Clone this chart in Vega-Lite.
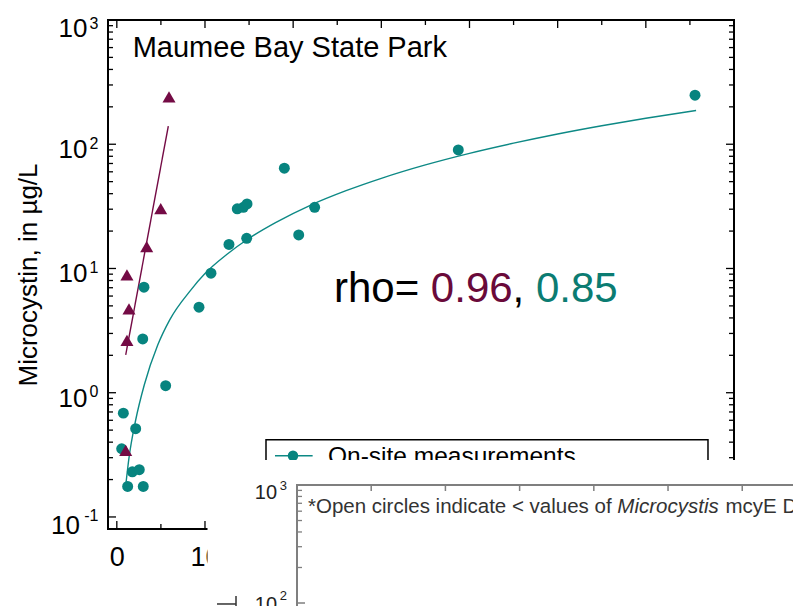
{
  "$schema": "https://vega.github.io/schema/vega-lite/v6.json",
  "width": 626,
  "height": 509,
  "autosize": "none",
  "padding": {"left": 108, "top": 20, "right": 59, "bottom": 77},
  "background": "white",
  "config": {
    "view": {"stroke": "black", "strokeWidth": 2},
    "font": "Liberation Sans",
    "text": {"font": "Liberation Sans"}
  },
  "datasets": {
    "onsite": [
      {"x": 0.74, "y": 0.685}, {"x": 0.55, "y": 0.354}, {"x": 1.23, "y": 0.176}, {"x": 3.0, "y": 0.176},
      {"x": 1.76, "y": 0.231}, {"x": 2.55, "y": 0.24}, {"x": 2.14, "y": 0.513}, {"x": 2.94, "y": 2.71},
      {"x": 5.54, "y": 1.14}, {"x": 9.32, "y": 4.88}, {"x": 3.08, "y": 7.07}, {"x": 10.68, "y": 9.17},
      {"x": 12.72, "y": 15.6}, {"x": 14.73, "y": 17.5}, {"x": 13.66, "y": 30.2}, {"x": 14.35, "y": 31.1},
      {"x": 14.77, "y": 33.1}, {"x": 19.0, "y": 64.1}, {"x": 20.63, "y": 18.6}, {"x": 22.44, "y": 31.1},
      {"x": 38.73, "y": 90.0}, {"x": 65.58, "y": 248}
    ],
    "lab": [
      {"x": 1.15, "y": 8.89}, {"x": 1.38, "y": 4.73}, {"x": 1.15, "y": 2.64}, {"x": 3.39, "y": 15.0},
      {"x": 4.98, "y": 30.3}, {"x": 5.92, "y": 241}, {"x": 1.01, "y": 0.343}
    ],
    "fitOnsite": [
      {"x": 1.01, "y": 0.179}, {"x": 1.38, "y": 0.299}, {"x": 2.14, "y": 0.603}, {"x": 3.12, "y": 1.16},
      {"x": 4.64, "y": 2.42}, {"x": 6.0, "y": 3.86}, {"x": 8.41, "y": 6.73}, {"x": 10, "y": 9.1},
      {"x": 12.5, "y": 13.0}, {"x": 15, "y": 17.5}, {"x": 18, "y": 23.4}, {"x": 22, "y": 32.4},
      {"x": 26, "y": 42.3}, {"x": 30, "y": 53.2}, {"x": 35, "y": 68.2}, {"x": 40, "y": 84.5},
      {"x": 45, "y": 102}, {"x": 50, "y": 121}, {"x": 55, "y": 141}, {"x": 60, "y": 162}, {"x": 65.7, "y": 187}
    ],
    "fitLab": [{"x": 1.01, "y": 2.02}, {"x": 5.84, "y": 140}],
    "yMinor": [
      {"v": 0.2}, {"v": 0.3}, {"v": 0.4}, {"v": 0.5}, {"v": 0.6}, {"v": 0.7}, {"v": 0.8}, {"v": 0.9},
      {"v": 2}, {"v": 3}, {"v": 4}, {"v": 5}, {"v": 6}, {"v": 7}, {"v": 8}, {"v": 9},
      {"v": 20}, {"v": 30}, {"v": 40}, {"v": 50}, {"v": 60}, {"v": 70}, {"v": 80}, {"v": 90},
      {"v": 200}, {"v": 300}, {"v": 400}, {"v": 500}, {"v": 600}, {"v": 700}, {"v": 800}, {"v": 900}
    ],
    "yMajor": [{"v": 0.1}, {"v": 1}, {"v": 10}, {"v": 100}],
    "xMinor": [{"v": 5}, {"v": 15}, {"v": 25}, {"v": 35}, {"v": 45}, {"v": 55}, {"v": 65}],
    "xMajor": [{"v": 0}, {"v": 10}, {"v": 20}, {"v": 30}, {"v": 40}, {"v": 50}, {"v": 60}],
    "yLabels": [{"v": 1000, "e": "3"}, {"v": 100, "e": "2"}, {"v": 10, "e": "1"}, {"v": 1, "e": "0"}, {"v": 0.1, "e": "-1"}],
    "insetTop": [{"v": 10}, {"v": 20}, {"v": 30}, {"v": 40}, {"v": 50}, {"v": 60}],
    "insetYMinor": [{"v": 200}, {"v": 300}, {"v": 400}, {"v": 500}, {"v": 600}, {"v": 700}, {"v": 800}, {"v": 900}]
  },
  "layer": [
    {
      "layer": [
        {
          "data": {"name": "fitOnsite"},
          "mark": {"type": "line", "color": "#0d8985", "strokeWidth": 1.4, "interpolate": "monotone"},
          "encoding": {
            "x": {"field": "x", "type": "quantitative", "scale": {"domain": [-1, 70], "nice": false, "zero": false},
              "axis": {"title": null, "values": [0, 10, 20, 30, 40, 50, 60, 70], "format": "d", "ticks": false, "domain": false, "grid": false,
                "labelFontSize": 27, "labelPadding": 15.5, "labelColor": "black", "labelFont": "Liberation Sans", "labelFlush": false, "labelOverlap": false}},
            "y": {"field": "y", "type": "quantitative", "scale": {"type": "log", "domain": [0.08, 1000], "nice": false},
              "axis": {"title": "Microcystin, in µg/L", "labels": false, "ticks": false, "domain": false, "grid": false,
                "titleFontSize": 26, "titleFontWeight": "normal", "titleColor": "black", "titleFont": "Liberation Sans",
                "titlePadding": 72, "titleBaseline": "alphabetic"}}
          }
        },
        {
          "data": {"name": "fitLab"},
          "mark": {"type": "line", "color": "#740b45", "strokeWidth": 1.4},
          "encoding": {"x": {"field": "x", "type": "quantitative"}, "y": {"field": "y", "type": "quantitative"}}
        },
        {
          "data": {"name": "onsite"},
          "mark": {"type": "circle", "size": 120, "color": "#07847f", "opacity": 1},
          "encoding": {"x": {"field": "x", "type": "quantitative"}, "y": {"field": "y", "type": "quantitative"}}
        },
        {
          "data": {"name": "lab"},
          "mark": {"type": "point", "shape": "triangle-up", "filled": true, "size": 170, "color": "#740b45", "opacity": 1},
          "encoding": {"x": {"field": "x", "type": "quantitative"}, "y": {"field": "y", "type": "quantitative"}}
        },
        {
          "data": {"name": "yMinor"},
          "mark": {"type": "rule", "color": "black", "strokeWidth": 1.3},
          "encoding": {"y": {"field": "v", "type": "quantitative"}, "x": {"datum": -1}, "x2": {"datum": -0.433}}
        },
        {
          "data": {"name": "yMajor"},
          "mark": {"type": "rule", "color": "black", "strokeWidth": 1.3},
          "encoding": {"y": {"field": "v", "type": "quantitative"}, "x": {"datum": -1}, "x2": {"datum": -0.093}}
        },
        {
          "data": {"name": "yMinor"},
          "mark": {"type": "rule", "color": "black", "strokeWidth": 1.3},
          "encoding": {"y": {"field": "v", "type": "quantitative"}, "x": {"datum": 70}, "x2": {"datum": 69.433}}
        },
        {
          "data": {"name": "yMajor"},
          "mark": {"type": "rule", "color": "black", "strokeWidth": 1.3},
          "encoding": {"y": {"field": "v", "type": "quantitative"}, "x": {"datum": 70}, "x2": {"datum": 69.093}}
        },
        {
          "data": {"name": "xMinor"},
          "mark": {"type": "rule", "color": "black", "strokeWidth": 1.3},
          "encoding": {"x": {"field": "v", "type": "quantitative"}, "y": {"datum": 1000}, "y2": {"datum": 911.7}}
        },
        {
          "data": {"name": "xMajor"},
          "mark": {"type": "rule", "color": "black", "strokeWidth": 1.3},
          "encoding": {"x": {"field": "v", "type": "quantitative"}, "y": {"datum": 1000}, "y2": {"datum": 862.3}}
        },
        {
          "data": {"name": "xMinor"},
          "mark": {"type": "rule", "color": "black", "strokeWidth": 1.3},
          "encoding": {"x": {"field": "v", "type": "quantitative"}, "y": {"datum": 0.08}, "y2": {"datum": 0.08778}}
        },
        {
          "data": {"name": "xMajor"},
          "mark": {"type": "rule", "color": "black", "strokeWidth": 1.3},
          "encoding": {"x": {"field": "v", "type": "quantitative"}, "y": {"datum": 0.08}, "y2": {"datum": 0.09278}}
        },
        {
          "data": {"name": "yLabels"},
          "transform": [{"filter": "datum.v >= 1 && datum.v < 1000"}],
          "mark": {"type": "text", "text": "10", "align": "right", "baseline": "alphabetic", "dx": -20.5, "dy": 14, "fontSize": 26, "color": "black"},
          "encoding": {"y": {"field": "v", "type": "quantitative"}, "x": {"datum": -1}}
        },
        {
          "data": {"name": "yLabels"},
          "transform": [{"filter": "datum.v == 1000"}],
          "mark": {"type": "text", "text": "10", "align": "right", "baseline": "alphabetic", "dx": -20.5, "dy": 17, "fontSize": 26, "color": "black"},
          "encoding": {"y": {"field": "v", "type": "quantitative"}, "x": {"datum": -1}}
        },
        {
          "data": {"name": "yLabels"},
          "transform": [{"filter": "datum.v < 1"}],
          "mark": {"type": "text", "text": "10", "align": "right", "baseline": "alphabetic", "dx": -28, "dy": 17, "fontSize": 26, "color": "black"},
          "encoding": {"y": {"field": "v", "type": "quantitative"}, "x": {"datum": -1}}
        },
        {
          "data": {"name": "yLabels"},
          "transform": [{"filter": "datum.v < 1000"}],
          "mark": {"type": "text", "align": "right", "baseline": "alphabetic", "dx": -9.5, "dy": 4.5, "fontSize": 16, "color": "black"},
          "encoding": {"y": {"field": "v", "type": "quantitative"}, "x": {"datum": -1}, "text": {"field": "e"}}
        },
        {
          "data": {"name": "yLabels"},
          "transform": [{"filter": "datum.v == 1000"}],
          "mark": {"type": "text", "align": "right", "baseline": "alphabetic", "dx": -9.5, "dy": 9, "fontSize": 16, "color": "black"},
          "encoding": {"y": {"field": "v", "type": "quantitative"}, "x": {"datum": -1}, "text": {"field": "e"}}
        },
        {
          "data": {"values": [{}]},
          "mark": {"type": "text", "text": "Maumee Bay State Park", "align": "left", "baseline": "alphabetic", "fontSize": 29, "color": "black"},
          "encoding": {"x": {"datum": 1.8}, "y": {"datum": 506.7}}
        },
        {
          "data": {"values": [{}]},
          "mark": {"type": "text", "text": "rho=", "align": "left", "baseline": "alphabetic", "fontSize": 42, "color": "black"},
          "encoding": {"x": {"datum": 24.63}, "y": {"datum": 5.417}}
        },
        {
          "data": {"values": [{}]},
          "mark": {"type": "text", "text": "0.96", "align": "left", "baseline": "alphabetic", "fontSize": 42, "color": "#6a0a3a"},
          "encoding": {"x": {"datum": 35.62}, "y": {"datum": 5.417}}
        },
        {
          "data": {"values": [{}]},
          "mark": {"type": "text", "text": ",", "align": "left", "baseline": "alphabetic", "fontSize": 42, "color": "black"},
          "encoding": {"x": {"datum": 44.89}, "y": {"datum": 5.417}}
        },
        {
          "data": {"values": [{}]},
          "mark": {"type": "text", "text": "0.85", "align": "left", "baseline": "alphabetic", "fontSize": 42, "color": "#0b7c72"},
          "encoding": {"x": {"datum": 47.54}, "y": {"datum": 5.417}}
        },
        {
          "data": {"values": [{}]},
          "mark": {"type": "rect", "fill": "white", "stroke": "black", "strokeWidth": 1.5},
          "encoding": {"x": {"datum": 16.92}, "x2": {"datum": 67.05}, "y": {"datum": 0.4178}, "y2": {"datum": 0.2}}
        },
        {
          "data": {"values": [{}]},
          "mark": {"type": "rule", "color": "#0d8985", "strokeWidth": 1.5},
          "encoding": {"x": {"datum": 17.94}, "x2": {"datum": 22.21}, "y": {"datum": 0.3107}}
        },
        {
          "data": {"values": [{}]},
          "mark": {"type": "circle", "size": 110, "color": "#07847f", "opacity": 1},
          "encoding": {"x": {"datum": 19.98}, "y": {"datum": 0.3107}}
        },
        {
          "data": {"values": [{}]},
          "mark": {"type": "text", "text": "On-site measurements", "align": "left", "baseline": "alphabetic", "fontSize": 24.5, "color": "black"},
          "encoding": {"x": {"datum": 23.95}, "y": {"datum": 0.267}}
        }
      ]
    },
    {
      "layer": [
        {
          "data": {"values": [{}]},
          "mark": {"type": "rect", "fill": "white", "clip": false},
          "encoding": {
            "x": {"datum": -12.06, "type": "quantitative", "scale": {"domain": [-25.47, 58.89], "nice": false, "zero": false}, "axis": null},
            "x2": {"datum": 80},
            "y": {"datum": 1629, "type": "quantitative", "scale": {"type": "log", "domain": [423.8, 8725000], "nice": false}, "axis": null},
            "y2": {"datum": 10}
          }
        },
        {
          "data": {"values": [{}]},
          "mark": {"type": "rect", "fill": null, "fillOpacity": 0, "stroke": "#7f7f7f", "strokeWidth": 2, "clip": false},
          "encoding": {
            "x": {"datum": 0, "type": "quantitative", "axis": null}, "x2": {"datum": 80},
            "y": {"datum": 1000, "type": "quantitative", "axis": null}, "y2": {"datum": 10}
          }
        },
        {
          "data": {"name": "insetTop"},
          "mark": {"type": "rule", "color": "#7f7f7f", "strokeWidth": 1.5},
          "encoding": {
            "x": {"field": "v", "type": "quantitative", "axis": null},
            "y": {"datum": 1000, "type": "quantitative", "axis": null}, "y2": {"datum": 889.8}
          }
        },
        {
          "data": {"name": "insetYMinor"},
          "mark": {"type": "rule", "color": "#7f7f7f", "strokeWidth": 1.3},
          "encoding": {
            "y": {"field": "v", "type": "quantitative", "axis": null},
            "x": {"datum": 0, "type": "quantitative", "axis": null}, "x2": {"datum": 0.674}
          }
        },
        {
          "data": {"values": [{}]},
          "mark": {"type": "rule", "color": "#7f7f7f", "strokeWidth": 1.5},
          "encoding": {
            "y": {"datum": 100, "type": "quantitative", "axis": null},
            "x": {"datum": 0, "type": "quantitative", "axis": null}, "x2": {"datum": 1.078}
          }
        },
        {
          "data": {"values": [{}]},
          "mark": {"type": "text", "text": "10", "align": "right", "baseline": "alphabetic", "dx": -20, "dy": 14, "fontSize": 20, "color": "#222222"},
          "encoding": {"x": {"datum": 0, "type": "quantitative", "axis": null}, "y": {"datum": 1000, "type": "quantitative", "axis": null}}
        },
        {
          "data": {"values": [{}]},
          "mark": {"type": "text", "text": "3", "align": "right", "baseline": "alphabetic", "dx": -10, "dy": 4.5, "fontSize": 13, "color": "#222222"},
          "encoding": {"x": {"datum": 0, "type": "quantitative", "axis": null}, "y": {"datum": 1000, "type": "quantitative", "axis": null}}
        },
        {
          "data": {"values": [{}]},
          "mark": {"type": "text", "text": "10", "align": "right", "baseline": "alphabetic", "dx": -20, "dy": 7.7, "fontSize": 20, "color": "#222222"},
          "encoding": {"x": {"datum": 0, "type": "quantitative", "axis": null}, "y": {"datum": 100, "type": "quantitative", "axis": null}}
        },
        {
          "data": {"values": [{}]},
          "mark": {"type": "text", "text": "2", "align": "right", "baseline": "alphabetic", "dx": -10, "dy": -3, "fontSize": 13, "color": "#222222"},
          "encoding": {"x": {"datum": 0, "type": "quantitative", "axis": null}, "y": {"datum": 100, "type": "quantitative", "axis": null}}
        },
        {
          "data": {"values": [{}]},
          "mark": {"type": "text", "text": "*Open circles indicate < values of", "align": "left", "baseline": "alphabetic", "fontSize": 20.5, "color": "#333333"},
          "encoding": {"x": {"datum": 1.48, "type": "quantitative", "axis": null}, "y": {"datum": 575.4, "type": "quantitative", "axis": null}}
        },
        {
          "data": {"values": [{}]},
          "mark": {"type": "text", "text": "Microcystis", "fontStyle": "italic", "align": "left", "baseline": "alphabetic", "fontSize": 20.5, "color": "#333333"},
          "encoding": {"x": {"datum": 43.17, "type": "quantitative", "axis": null}, "y": {"datum": 575.4, "type": "quantitative", "axis": null}}
        },
        {
          "data": {"values": [{}]},
          "mark": {"type": "text", "text": "mcyE D", "align": "left", "baseline": "alphabetic", "fontSize": 20.5, "color": "#333333"},
          "encoding": {"x": {"datum": 57.74, "type": "quantitative", "axis": null}, "y": {"datum": 575.4, "type": "quantitative", "axis": null}}
        },
        {
          "data": {"values": [{}]},
          "mark": {"type": "rule", "color": "#333333", "strokeWidth": 1.5, "clip": false},
          "encoding": {
            "x": {"datum": -10.78, "type": "quantitative", "axis": null}, "x2": {"datum": -8.22},
            "y": {"datum": 98.1, "type": "quantitative", "axis": null}
          }
        },
        {
          "data": {"values": [{}]},
          "mark": {"type": "rule", "color": "#333333", "strokeWidth": 1.5, "clip": false},
          "encoding": {
            "x": {"datum": -8.22, "type": "quantitative", "axis": null},
            "y": {"datum": 114.6, "type": "quantitative", "axis": null}, "y2": {"datum": 50}
          }
        }
      ]
    }
  ],
  "resolve": {"scale": {"x": "independent", "y": "independent"}}
}
